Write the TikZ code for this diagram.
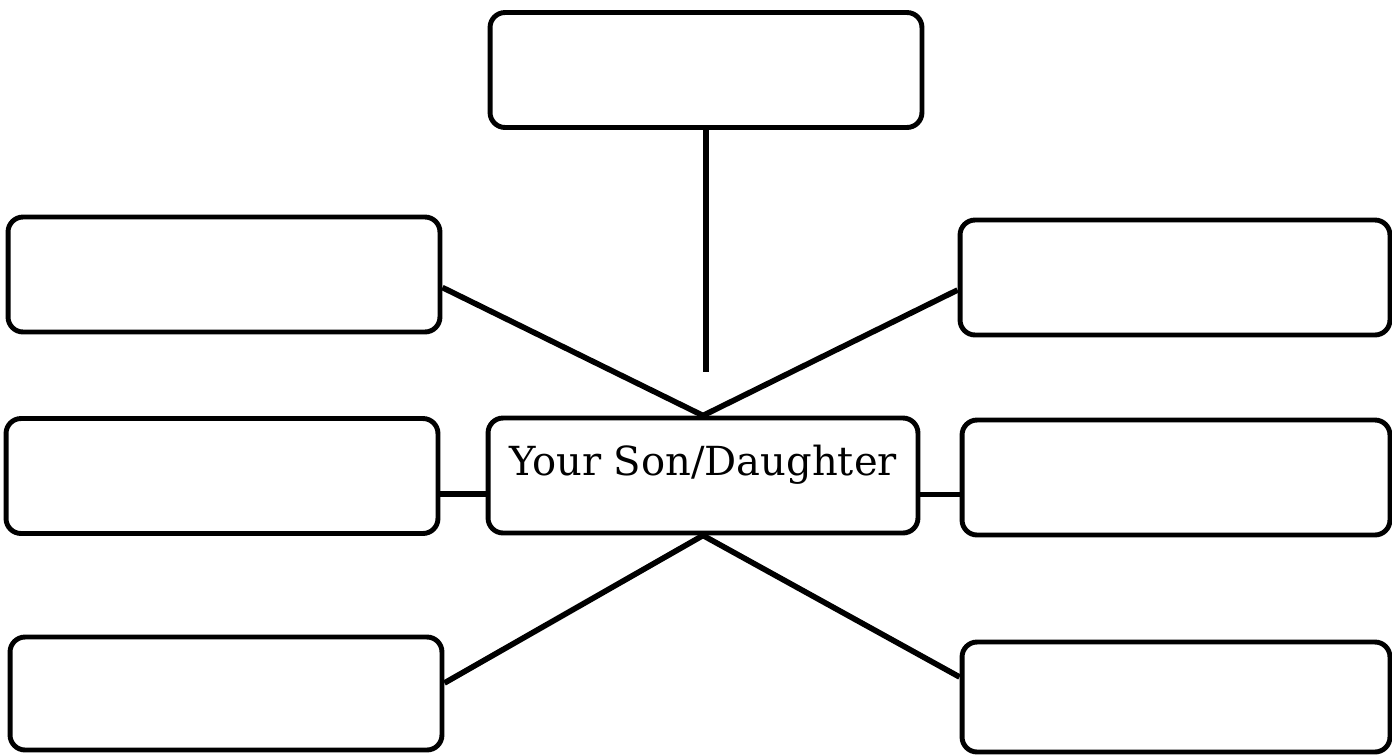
\documentclass[tikz,border=0pt]{standalone}
\usepackage{fontspec}
\setmainfont{DejaVu Serif}
\begin{document}
\begin{tikzpicture}[x=0.02cm,y=-0.02cm,
  card/.style={draw,line width=2.8pt,rounded corners=0.3cm,inner sep=0pt,
    minimum width=8.64cm,minimum height=2.3cm},
  link/.style={line width=3.2pt}]
\useasboundingbox (0,0) rectangle (1392,755);
% outer boxes
\node[card] (top) at (706,70) {};
\node[card] (lt) at (224,274.5) {};
\node[card,minimum width=8.6cm] (rt) at (1175,277.5) {};
\node[card] (lm) at (222,476) {};
\node[card,minimum width=8.56cm] (rm) at (1176,477.5) {};
\node[card,minimum height=2.26cm] (lb) at (226,693.5) {};
\node[card,minimum width=8.56cm,minimum height=2.2cm] (rb) at (1176,697) {};
% central box
\node[card,minimum width=8.6cm,text height=0.4cm,text depth=0.4cm,
  font=\fontsize{22.8}{26}\selectfont] (c) at (703,475.5) {Your Son/Daughter};
% connectors
\coordinate (stop) at (706,372);
\draw[link] (top.south) -- (stop);
\draw[link] ([yshift=-0.26cm]lt.east) -- (c.north);
\draw[link] ([yshift=-0.25cm]rt.west) -- (c.north);
\coordinate (lmj) at ([yshift=-0.36cm]lm.east);
\draw[link] (lmj) -- (lmj -| c.west);
\coordinate (rmj) at ([yshift=-0.34cm]rm.west);
\draw[link] (rmj -| c.east) -- (rmj);
\draw[link] (c.south) -- ([yshift=0.21cm]lb.east);
\draw[link] (c.south) -- ([yshift=0.4cm]rb.west);
\end{tikzpicture}
\end{document}
